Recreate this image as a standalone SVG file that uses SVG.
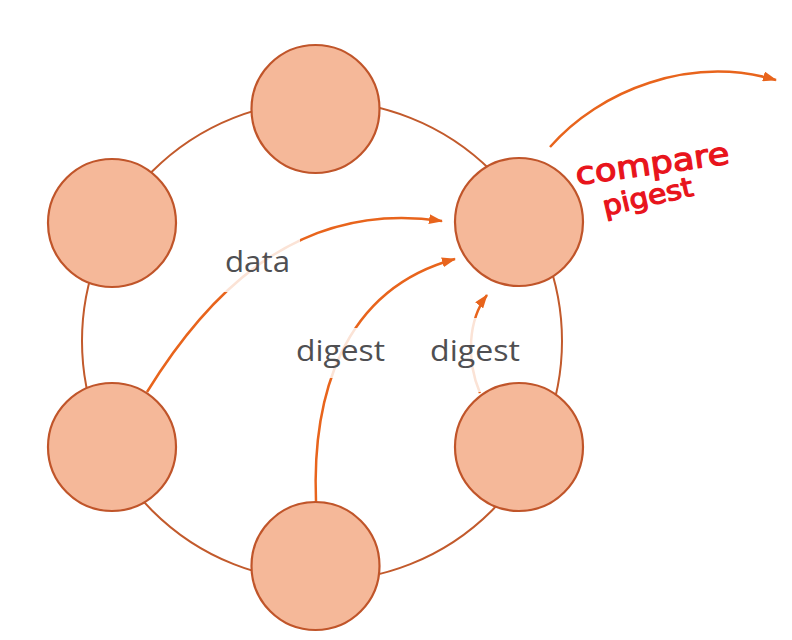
<svg xmlns="http://www.w3.org/2000/svg" width="792" height="640" viewBox="0 0 792 640">
<style>
.ring{fill:none;stroke:#c25a2c;stroke-width:2}
.node{fill:#f5b899;stroke:#c0552a;stroke-width:2.2}
.conn{fill:none;stroke:#e8641c;stroke-width:2.5}
.halo{fill:#ffffff;fill-opacity:0.82}
.lbl{font-family:"Open Sans","Liberation Sans",sans-serif;font-size:29px;fill:#4f4f52}
.hand{font-family:"DejaVu Sans",sans-serif;fill:#e8141c;stroke:#e8141c;stroke-width:1.2;stroke-linejoin:round}
</style>
<defs>
<marker id="ah" viewBox="0 0 14 10" refX="13" refY="5" markerWidth="14" markerHeight="10" markerUnits="userSpaceOnUse" orient="auto">
<path d="M0,0 L14,5 L0,10 Z" fill="#e8641c"/>
</marker>
</defs>
<rect width="792" height="640" fill="#ffffff"/>
<circle class="ring" cx="322" cy="341" r="240"/>
<g id="connectors">
<path class="conn" d="M147,392 C210,290 300,200 442,221" marker-end="url(#ah)"/>
<path class="conn" d="M316,502 C312,400 340,290 455,259" marker-end="url(#ah)"/>
<path class="conn" d="M480,393 C466,360 468,320 487,295" marker-end="url(#ah)"/>
<path class="conn" d="M550,147 C600,90 690,55 776,80" marker-end="url(#ah)"/>
</g>
<g id="labels">
<rect class="halo" x="222" y="238" width="78" height="54"/>
<text class="lbl" x="225" y="272" textLength="65" lengthAdjust="spacingAndGlyphs">data</text>
<rect class="halo" x="292" y="328" width="98" height="50"/>
<text class="lbl" x="296" y="361" textLength="89" lengthAdjust="spacingAndGlyphs">digest</text>
<rect class="halo" x="425" y="318" width="100" height="74"/>
<text class="lbl" x="430" y="361" textLength="90" lengthAdjust="spacingAndGlyphs">digest</text>
</g>
<g id="node-top"><circle class="node" cx="315.5" cy="109" r="64"/></g>
<g id="node-left-top"><circle class="node" cx="112" cy="223" r="64"/></g>
<g id="node-right-top"><circle class="node" cx="519" cy="222" r="64"/></g>
<g id="node-left-bottom"><circle class="node" cx="112" cy="447" r="64"/></g>
<g id="node-bottom"><circle class="node" cx="315.5" cy="566" r="64"/></g>
<g id="node-right-bottom"><circle class="node" cx="519" cy="447" r="64"/></g>
<g id="annotation">
<text class="hand" font-size="31" transform="translate(577,185) rotate(-8)" textLength="155" lengthAdjust="spacingAndGlyphs">compare</text>
<text class="hand" font-size="27" transform="translate(605,216) rotate(-13)" textLength="92" lengthAdjust="spacingAndGlyphs">pigest</text>
</g>
</svg>
